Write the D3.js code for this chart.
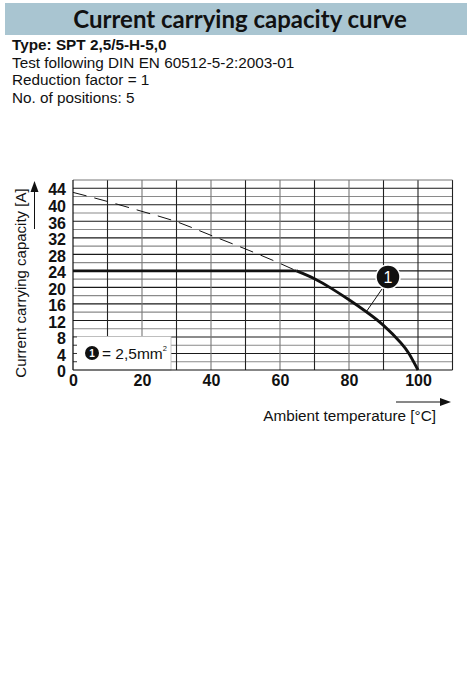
<!DOCTYPE html>
<html><head><meta charset="utf-8">
<script src="https://cdn.jsdelivr.net/npm/d3@7"></script>
<style>body{margin:0;background:#fff;} svg{display:block;}</style>
</head><body>
<svg id="c" width="470" height="676"></svg>
<script>
// ---- data ----
const titleText = "Current carrying capacity curve";
const infoLines = ["Type: SPT 2,5/5-H-5,0", "Test following DIN EN 60512-5-2:2003-01", "Reduction factor = 1", "No. of positions: 5"];
const xTicks = [0, 20, 40, 60, 80, 100];
const yTicks = [0, 4, 8, 12, 16, 20, 24, 28, 32, 36, 40, 44];
// base (dashed) curve, without limit
const baseTemp = [0, 10, 20, 30, 40, 50, 60, 64.8];
const baseCurrent = [43, 40.8, 38.4, 35.9, 32.6, 29.3, 25.8, 24];
// limited (solid) curve for 2,5 mm²
const solidTemp = [0, 64.8, 70, 75, 80, 85, 90, 95, 97.5, 100];
const solidCurrent = [24, 24, 22.1, 19.7, 17.0, 14.1, 10.8, 6.6, 3.8, 0];
const xLabel = "Ambient temperature [°C]";
const yLabel = "Current carrying capacity [A]";
const legendText = "= 2,5mm";

const svg = d3.select("#c");
const F = "'Liberation Sans', Arial, sans-serif";

// title bar
svg.append("rect").attr("x", 5).attr("y", 3).attr("width", 462).attr("height", 32).attr("fill", "#a9c5d1");
svg.append("text").attr("x", 240).attr("y", 28).attr("text-anchor", "middle")
  .attr("font-family", "Lato, sans-serif").attr("font-weight", "bold").attr("font-size", 24)
  .attr("fill", "#111").text(titleText);

svg.selectAll("text.info").data(infoLines).join("text").attr("class", "info")
  .attr("x", 12).attr("y", (d, i) => 50 + i * 17.5)
  .attr("font-family", F).attr("font-size", 15.3).attr("font-weight", (d, i) => i === 0 ? "bold" : "normal")
  .attr("fill", "#111").text(d => d);

// scales
const x = d3.scaleLinear().domain([0, 110]).range([73, 452.5]);
const y = d3.scaleLinear().domain([0, 46]).range([370, 180]);

const g = svg.append("g");
// horizontal grid every 2
const hVals = d3.range(2, 46, 2);
g.selectAll("line.h").data(hVals).join("line").attr("class", "h")
  .attr("x1", x(0)).attr("x2", x(110)).attr("y1", d => y(d)).attr("y2", d => y(d))
  .attr("stroke", d => d % 4 === 0 ? "#1a1a1a" : "#8a8a8a").attr("stroke-width", 1.1);
// vertical grid every 10
const vVals = d3.range(10, 111, 10);
g.selectAll("line.v").data(vVals).join("line").attr("class", "v")
  .attr("x1", d => x(d)).attr("x2", d => x(d)).attr("y1", y(46)).attr("y2", y(0))
  .attr("stroke", d => d % 20 === 0 && d !== 100 ? "#777" : "#222").attr("stroke-width", 1.1);
// top border
g.append("line").attr("x1", x(0)).attr("x2", x(110)).attr("y1", y(46)).attr("y2", y(46)).attr("stroke", "#777");

// legend box
const lb = g.append("g");
lb.append("rect").attr("x", x(0)).attr("y", y(8) - 0.5).attr("width", 98).attr("height", y(0) - y(8) + 0.5)
  .attr("fill", "#fff").attr("stroke", "#bbb").attr("stroke-width", 0.8);
lb.selectAll("line").data([2, 4, 6, 8]).join("line")
  .attr("x1", x(0)).attr("x2", x(0) + 4).attr("y1", d => y(d)).attr("y2", d => y(d)).attr("stroke", "#333");
lb.append("circle").attr("cx", 92).attr("cy", 353).attr("r", 7).attr("fill", "#111");
lb.append("text").attr("x", 92).attr("y", 357).attr("text-anchor", "middle").attr("font-family", F)
  .attr("font-size", 10).attr("font-weight", "bold").attr("fill", "#fff").text("1");
const lt = lb.append("text").attr("x", 102).attr("y", 358.5).attr("font-family", F).attr("font-size", 15.5).attr("fill", "#111");
lt.append("tspan").text(legendText);
lt.append("tspan").attr("dy", -8).attr("font-size", 7.5).text("2");

// axes lines
g.append("line").attr("x1", x(0)).attr("x2", x(0)).attr("y1", y(46)).attr("y2", y(0)).attr("stroke", "#111").attr("stroke-width", 1.2);
g.append("line").attr("x1", x(0)).attr("x2", x(110)).attr("y1", y(0)).attr("y2", y(0)).attr("stroke", "#111").attr("stroke-width", 1.2);

// curves
const lineGen = d3.line().x(d => x(d[0])).y(d => y(d[1])).curve(d3.curveMonotoneX);
g.append("path").datum(baseTemp.map((t, i) => [t, baseCurrent[i]])).attr("d", lineGen)
  .attr("fill", "none").attr("stroke", "#111").attr("stroke-width", 1).attr("stroke-dasharray", "14,8");
const solidPts = solidTemp.map((t, i) => [t, solidCurrent[i]]);
const flatGen = d3.line().x(d => x(d[0])).y(d => y(d[1]));
const curveGen = d3.line().x(d => x(d[0])).y(d => y(d[1])).curve(d3.curveNatural);
g.append("path").datum(solidPts.slice(0, 2)).attr("d", flatGen)
  .attr("fill", "none").attr("stroke", "#111").attr("stroke-width", 2.8);
g.append("path").datum(solidPts.slice(1)).attr("d", curveGen)
  .attr("fill", "none").attr("stroke", "#111").attr("stroke-width", 2.8).attr("stroke-linejoin", "round");

// callout
const cT = 85, cI = solidCurrent[5];
g.append("line").attr("x1", x(cT)).attr("y1", y(cI)).attr("x2", 382).attr("y2", 289).attr("stroke", "#111").attr("stroke-width", 1);
g.append("circle").attr("cx", 388).attr("cy", 277).attr("r", 12).attr("fill", "#111").attr("stroke", "#fff").attr("stroke-width", 1.5);
g.append("text").attr("x", 388).attr("y", 283).attr("text-anchor", "middle").attr("font-family", F)
  .attr("font-size", 16).attr("fill", "#fff").text("1");

// tick labels
const yAxis = d3.axisLeft(y).tickValues(yTicks).tickSize(0).tickPadding(7);
const ya = svg.append("g").attr("transform", `translate(${x(0)},0)`).call(yAxis);
ya.select(".domain").remove();
ya.selectAll("text").attr("font-family", F).attr("font-size", 16).attr("font-weight", "bold").attr("fill", "#111").attr("dy", "0.42em");
const xAxis = d3.axisBottom(x).tickValues(xTicks).tickSize(0).tickPadding(5);
const xa = svg.append("g").attr("transform", `translate(0,${y(0)})`).call(xAxis);
xa.select(".domain").remove();
xa.selectAll("text").attr("font-family", F).attr("font-size", 16).attr("font-weight", "bold").attr("fill", "#111");

// axis titles and arrows
svg.append("text").attr("transform", "translate(26,283) rotate(-90)").attr("text-anchor", "middle")
  .attr("font-family", F).attr("font-size", 15).attr("fill", "#111").text(yLabel);
svg.append("text").attr("x", 436).attr("y", 421).attr("text-anchor", "end")
  .attr("font-family", F).attr("font-size", 15.3).attr("fill", "#111").text(xLabel);
svg.append("line").attr("x1", 34.5).attr("x2", 34.5).attr("y1", 229).attr("y2", 190).attr("stroke", "#111").attr("stroke-width", 1);
svg.append("path").attr("d", "M34.5,181 L30.5,192 L38.5,192 Z").attr("fill", "#111");
svg.append("line").attr("x1", 396).attr("x2", 441).attr("y1", 402).attr("y2", 402).attr("stroke", "#111").attr("stroke-width", 1);
svg.append("path").attr("d", "M451,402 L440,398 L440,406 Z").attr("fill", "#111");
</script>
</body></html>
